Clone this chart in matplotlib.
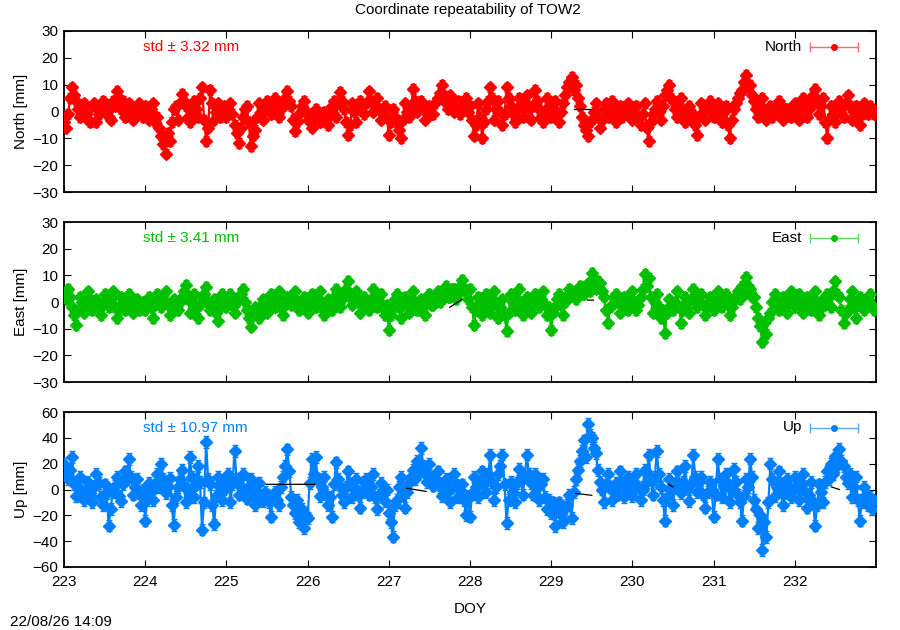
#!/usr/bin/env python3
"""Coordinate repeatability plot (North / East / Up) for station TOW2."""

import numpy as np
import matplotlib
matplotlib.use("Agg")
import matplotlib.pyplot as plt

plt.rcParams["font.family"] = ["Liberation Sans", "DejaVu Sans"]
plt.rcParams["font.size"] = 11

# --------------------------------------------------------------------------- #
# Data (one value every 0.025 day, one row per DOY)   #
# --------------------------------------------------------------------------- #
DOY_START = 223.0
DOY_STEP = 0.025

north = [
    -4, -6, -1, 5, 9, 6, 4, 1, -2, 0, 3, -1, -3, -4, 2, 3, -4, -1, 1, 4,
    3, 0, -2, -3, 4, 2, 7.6, 5, 1, 4, -2, 0, 3, 1, -3, -1, 2, 3, 0, -2,             # 223
    2, -1, -3, 1, 3, -4, -2, -6, -9, -12, -15.7, -8, -11, -4, 1, 2, -3, 3, 6.7, 4,
    2, -2, -4, 0, 4, 1, -2, 5, 9, -3, -11, -6, 8, 3, -3, 0, 3, -2, -1, 2,          # 224
    -2, 1, 3, -1, -5, -8, -11.8, -6, -2, 1, 2, -4, -13, -9, -7, -2, 3, 0, -3, 2,
    4, 1, -1, 3, 5, 0, -2, 1, 3, 5, 7.6, 4, 2, -3, -7.4, -4, -1, 2, 4, 0,          # 225
    -3, -1, -6, -3, 1, -2, -4, -1, 0, -3, -5, -1, 2, 4, -2, 3, 7.4, 4, 1, -4,
    -8.7, -5, 3, 0, -4, 1, 4, 2, -1, 3, 7.5, 4, 0, 2, 5, 1, -3, -1, 2, -2,         # 226
    -8.7, -4, 1, -2, -4, -7, -10, -3, 3, 0, -2, 2, 8.4, 4, 0, 2, 4, 1, -3, 0,
    2, -1, -1, 3, 5, 7, 10, 6, 3, 1, 6, 4, 0, 3, 4, -1, 1, 3, 5, 0,                # 227
    2, -3, -9, -5, 3, -2, -10, -4, 1, 4, 9, 5, -3, 1, 4, 0, -5, -1, 9, 5,
    2, -1, -4, 1, 5, 2, -2, 3, 6, 1, -3, 2, 8, 4, 1, -2, -4, 0, 5, 2,              # 228
    -2, 1, 4, -1, -4, 0, 3, 6, 9, 11, 13, 8, 10, 5, 2, -2, -5, -7, -9.2, -4,
    -3, 0, 3, -2, -6, -3, 1, 3, -2, 0, 4, 1, -4, -1, 2, -2, -1, 2, 3, 0,           # 229
    -3, 0, 2, -2, -5, -1, 3, -6, -11, -4, -1, 1, 4, 0, -3, 2, 6, 8, 10, 5,
    4, 1, -2, 2, 5, 0, -4, -1, 2, -2, -1, -5, -8.7, -2, 3, 0, -3, 1, 4, 0,         # 230
    -2, 1, 3, -1, -4, 0, 2, -5, -10, -3, 1, 3, 5, 7, 8, 11, 13.5, 9, 10, 6,
    4, 1, -2, 2, 5, 0, -3, 1, 2, -2, -1, 2, 4, 0, -3, 1, 1, -1, -2, 2,             # 231
    3, 0, -3, 1, 5, 2, -2, 1, 4, 6, 8.5, 3, -1, 2, 5, -4, -10, -3, 2, -1,
    -4, 0, 4, 1, -2, 3, 6, 2, -3, 0, 2, -2, -5, -1, 3, 0, -1, 2, 1, -1,            # 232
]

east = [
    3, 1, 5, 2, -2, -5, -8.6, -3, 2, 0, -4, -1, 4, 1, -3, 0, 1, -2, -5, -1,
    3, 0, -2, 1, 4, -2, -6, -3, 2, 0, -3, 1, 3, -1, -4, -1, 1, -3, -2, 0,          # 223
    -3, 0, 2, -2, -6, -1, 3, 0, -2, 1, 4, -1, -5, -2, 1, -1, -3, 0, 2, 4,
    6.4, 1, -4, 0, 3, -2, -6, -1, 2, 3, 5.7, 0, -3, -1, 1, -4, -7, -2, 3, 0,       # 224
    -2, 1, 3, -1, -4, 0, 2, 3, 5, 0, -3, -6, -9.2, -5, -2, -4, -6, -1, 1, -3,
    -4, 0, 3, -1, -2, 1, 4, -2, -5, -1, 2, 0, -1, 2, 4, 0, -3, -1, 2, 0,           # 225
    -4, 0, 3, -1, -2, 1, 4, -2, -5, -1, 1, -2, -3, 2, 5, 0, -2, 1, 3, 5,
    8, 2, -1, 3, 4, 0, -4, -1, 2, 0, -3, 1, 5, 2, -2, 0, 3, -2, -5, -1,            # 226
    -10.5, -5, -2, 1, 3, -2, -6, -1, 2, 0, -4, -1, 4, 0, -3, -1, 1, -2, -5, 0,
    3, -1, -1, 2, 4, 0, 1, 3, 6, 2, 2, 5, 5, 1, 3, 6, 8.3, 5, 4, 1,                # 227
    5, -2, -8.6, -3, 2, 0, -5, -1, 3, -2, -4, 1, 4, -1, -6, -2, 1, -5, -11, -4,
    3, 0, -3, 1, 5, -1, -5, -2, 2, 0, -4, -1, 3, 0, -2, 1, 4, -1, -5, -2,          # 228
    -10.5, -4, -2, 1, 3, -1, -5, 0, 2, 5, 4, 2, 1, 4, 6, 3, 3, 6, 7, 4,
    11, 6, 5, 8, 7, 4, 2, -3, -8, -2, -1, 2, 3, 0, -4, -1, 2, -1, -3, 1,           # 229
    4, 0, -3, -1, 2, 5, 10.6, 6, 9, 2, -4, 0, 3, -2, -6, -3, -11.8, -4, 1, -1,
    -3, 0, 4, -2, -8, -3, 2, 0, -4, 1, 5, 1, -2, 0, 3, -1, -5, -1, 2, 0,           # 230
    -3, 0, 4, 1, -2, 0, 3, -1, -5, -2, 1, 2, 4, 1, 6, 3, 9.4, 6, 5, 2,
    2, -2, -6, -9, -15, -8, -12, -6, -4, 0, 3, -1, -3, 0, 2, -1, -4, 1, 4, 0,      # 231
    -2, 1, 3, -1, -4, 0, 2, -2, -3, 1, 4, 0, -5, -2, 1, -1, 3, 2, -2, 4,
    7.7, 3, 2, -3, -8, -4, -3, 1, 4, -2, -6, -1, 2, 0, -3, -1, 1, 3, -1, -3,       # 232
]

up = [
    20, 12, 8, 15, 25, 4, -5, 2, 10, -2, -8, 0, 6, -4, -10, 2, 12, 5, -6, -12,
    4, -3, -28, -15, -2, 3, 10, -5, -9, 4, 14, 8, 23.5, 10, -4, 2, 8, -3, -12, 0,          # 223
    -24, -8, 5, -2, -8, 4, 12, 2, 20, 8, -3, 2, 9, -12, -27.6, -6, 2, 8, 15, 3,
    -10, 0, 25, 10, -6, 4, 18, 6, -31, -10, 36.7, 8, 4, -12, -27, -5, 10, 2, -8, 0,        # 224
    6, 12, -10, 4, 30, 8, -4, 2, 12, -2, -7, 3, 8, -4, -12, -2, 5, -6, -9, -2,
    -4, -10, -21, -6, -2, -8, -12, 2, 10, 18, 31, 14, -6, -12, -18, -8, -25, -15, -30, -20, # 225
    -22, 5, 23.5, 12, 25, 8, -5, 2, 10, -4, -12, -6, -21, 4, 21, 8, 3, -4, -10, 2,
    14, 4, -6, 2, 8, -4, -14, -2, 6, 8, -4, 2, 12, -6, -15, -4, 5, -2, -9, 0,              # 226
    -18, -25, -36.5, -12, -8, 2, 10, -4, -14, -2, 5, 10, 15, 8, 22, 14, 32, 18, 12, 6,
    20, 10, 3, 8, 14, 2, -5, 4, 8, -2, -10, 2, 12, 4, -6, 0, 4, -8, -20, -5,               # 227
    -21, -4, 10, 2, -6, 5, 14, 4, -2, 12, 27, 6, -8, 2, 12, 18, 27, 4, -26, -8,
    6, -2, -10, 5, 16, 8, -4, 10, 27, 12, 5, -4, 12, 2, -8, 4, 8, -6, -15, -8,             # 228
    -18, -10, -28.4, -15, -10, -20, -25, -14, -12, -4, -22, -2, 8, 15, 22, 30, 38, 25, 50.6, 42,
    40, 32, 28, 15, 6, 0, -10, 4, 12, 2, -8, -2, 5, -4, 14, 4, -6, 2, 10, -2,              # 229
    -5, 4, 12, 2, -8, 0, 15, 6, 27, 10, -4, 8, 30, 12, 2, -8, -24, -6, 8, 0,
    -12, 2, 14, 4, -3, 6, 18, 2, -9, 4, 27, 10, -2, 6, 10, -4, -14, -2, 6, 0,              # 230
    -21, -4, 24, 8, -6, 2, 12, 4, -10, 0, 16, 6, -4, -10, -24, -5, 8, 2, 24, 10,
    -8, -15, -30, -20, -47, -25, -37, -10, 20, 8, -5, 2, 14, 4, -12, -2, 8, 2, -6, 0,      # 231
    10, 2, -8, 4, 12, -2, -14, -4, 6, -10, -28, -12, 4, -2, -10, 6, 14, 8, 20, 12,
    26, 18, 31.6, 22, 18, 10, 5, 12, -6, 2, 10, -8, -24, -10, 2, -4, -12, -6, -15, -8,     # 232
]

# formal errors (mm), one per component
north_sigma = 1.8
east_sigma = 1.8
up_sigma = 4.5

# short black reference segments visible through the data (nan = gap)
north_ref_doy = [229.28, 229.48]
north_ref_val = [1.0, 1.0]
east_ref_doy = [227.75, 227.90, np.nan, 229.45, 229.52]
east_ref_val = [-2.0, 1.0, np.nan, 0.7, 0.7]
up_ref_doy = [225.49, 226.09, np.nan, 227.22, 227.46, np.nan, 229.30, 229.50,
              np.nan, 230.45, 230.50, np.nan, 232.45, 232.55]
up_ref_val = [4, 4, np.nan, 1, -1.5, np.nan, -3, -4.5,
              np.nan, 4, 2, np.nan, 2, 0]

std_text = ["3.32", "3.41", "10.97"]
labels = ["North", "East", "Up"]
ylabels = ["North [mm]", "East [mm]", "Up [mm]"]
yticks = [range(-30, 31, 10), range(-30, 31, 10), range(-60, 61, 20)]
xticks = list(range(223, 233))

# --------------------------------------------------------------------------- #
# Plot                                                                        #
# --------------------------------------------------------------------------- #
colors = ["#ff0000", "#00c000", "#0080ff"]
light = ["#ff6a6a", "#5ed85e", "#5aa8ff"]

# axes boxes in pixels (top, bottom) of a 900x630 canvas
W, H = 900.0, 630.0
left_px, right_px = 64, 876
boxes = [(31, 192), (222, 382), (412, 567)]

fig = plt.figure(figsize=(9, 6.3), dpi=100)

series = [north, east, up]
sigmas = [north_sigma, east_sigma, up_sigma]
refs = [(north_ref_doy, north_ref_val), (east_ref_doy, east_ref_val),
        (up_ref_doy, up_ref_val)]

for i, (top, bot) in enumerate(boxes):
    ax = fig.add_axes([left_px / W, 1 - bot / H, (right_px - left_px) / W, (bot - top) / H])
    y = np.array(series[i], dtype=float)
    t = DOY_START + DOY_STEP * np.arange(len(y))

    ax.errorbar(t, y, yerr=sigmas[i], fmt="none", ecolor=colors[i],
                elinewidth=1.2, capsize=2, capthick=1.0, zorder=2)
    ax.plot(t, y, color=colors[i], lw=1.6, zorder=2)
    ax.plot(t, y, ls="none", marker="D", ms=5.8, color=colors[i],
            mec=colors[i], zorder=3)
    ax.plot(refs[i][0], refs[i][1], color="black", lw=0.9, zorder=4)

    lim = max(yticks[i])
    ax.set_ylim(-lim, lim)
    ax.set_xlim(223, 233)
    ax.set_yticks(list(yticks[i]))
    ax.set_xticks(xticks)
    ax.tick_params(direction="in", length=5, width=0.8, top=True, right=True,
                   labelsize=11, pad=4)
    ax.tick_params(axis="x", pad=6)
    if i < 2:
        ax.set_xticklabels([])
    for s in ax.spines.values():
        s.set_linewidth(1.3)
    ax.set_ylabel(ylabels[i], fontsize=11, labelpad=3)

    # std annotation
    ax.text(0.097, 0.90, "std \u00b1 " + std_text[i] + " mm", transform=ax.transAxes,
            color=colors[i], fontsize=11, va="center", ha="left")

    # legend drawn gnuplot-style: label, then horizontal error line
    ax.text(0.909, 0.90, labels[i], transform=ax.transAxes, fontsize=11,
            va="center", ha="right")
    ax.plot([0.919, 0.978], [0.90, 0.90], transform=ax.transAxes,
            color=light[i], lw=1.0, clip_on=False)
    ax.plot([0.919, 0.978], [0.90, 0.90], transform=ax.transAxes, ls="none",
            marker="|", ms=7, mew=1.0, color=light[i], clip_on=False)
    ax.plot([0.9485], [0.90], transform=ax.transAxes, marker="o", ms=4,
            color=colors[i], clip_on=False)

    if i == 2:
        ax.set_xlabel("DOY", fontsize=11, labelpad=9)

fig.text(0.52, 1 - 10 / H, "Coordinate repeatability of TOW2", ha="center",
         va="center", fontsize=11)
fig.text(10 / W, 1 - 622 / H, "22/08/26 14:09", ha="left", va="center", fontsize=11)

fig.savefig("out.png", dpi=100)
